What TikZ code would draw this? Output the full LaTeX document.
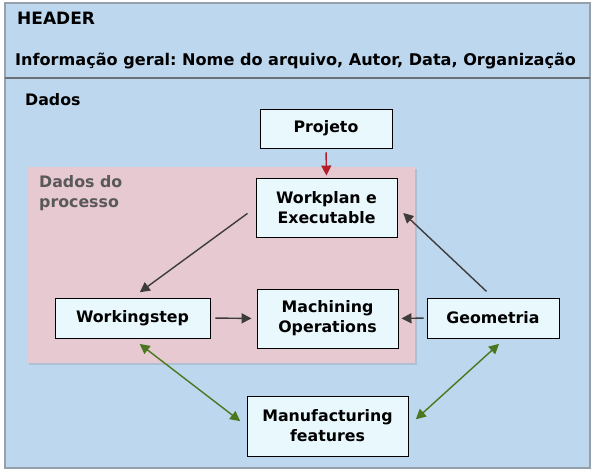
\documentclass[tikz,border=0pt]{standalone}
\usepackage{fontspec}
\setmainfont{DejaVu Sans}
\usepackage{xcolor}
\usepackage{tikz}
\usetikzlibrary{arrows.meta,positioning,shadows}
\frenchspacing

\definecolor{bgblue}{RGB}{189,215,238}
\definecolor{bgpink}{RGB}{231,201,210}
\definecolor{boxfill}{RGB}{233,248,253}
\definecolor{frame}{RGB}{150,160,170}
\definecolor{arrgray}{RGB}{60,60,60}
\definecolor{arrred}{RGB}{180,30,40}
\definecolor{arrgreen}{RGB}{75,120,30}

\begin{document}
\begin{tikzpicture}[x=1pt, y=-1pt,
    box/.style={draw, fill=boxfill, line width=0.9pt, align=center, font=\fontsize{15.8}{20}\selectfont\bfseries},
    arr/.style={-{Triangle[length=10pt,width=10pt]}, arrgray, line width=1.4pt},
    link/.style={{Triangle[length=10pt,width=10pt]}-{Triangle[length=10pt,width=10pt]}, arrgreen, line width=1.4pt}]
        \useasboundingbox (0,0) rectangle (597,474);

        % Header and data areas
        \draw[frame, line width=1.2pt, fill=bgblue] (5,3) rectangle (590,468);
        \draw[frame!70!black, line width=1.2pt] (5,78) -- (590,78);
        \node[anchor=west, inner sep=0, font=\fontsize{17}{20}\selectfont\bfseries] (hdr) at (17,18) {HEADER};
        \node[anchor=west, inner sep=0, font=\fontsize{16.1}{20}\selectfont\bfseries] (info) at (15,61) {Informação geral: Nome do arquivo, Autor, Data, Organização};
        \node[anchor=west, inner sep=0, font=\fontsize{15.8}{20}\selectfont\bfseries] (dados) at (25,100) {Dados};

        % Process data
        \node[fill=bgpink, minimum width=388pt, minimum height=196pt, inner sep=0,
              drop shadow={opacity=0.25, shadow xshift=2pt, shadow yshift=-2pt}] (proc) at (221,265) {};
        \node[anchor=north west, align=left, inner sep=0, text=black!65, font=\fontsize{15.8}{20}\selectfont\bfseries] (proclbl) at (39,175) {Dados do\\processo};

        % Boxes
        \node[box, minimum width=132pt, minimum height=39pt] (proj) at (326,128.5) {Projeto};
        \node[box, minimum width=141pt, minimum height=59pt] (wp) at (326.5,207.5) {Workplan e\\Executable};
        \node[box, minimum width=141pt, minimum height=59pt] (mo) at (327.5,318.5) {Machining\\Operations};
        \node[box, minimum width=155pt, minimum height=40pt] (ws) at (132.5,318) {Workingstep};
        \node[box, minimum width=132pt, minimum height=40pt] (geo) at (493,318) {Geometria};
        \node[box, minimum width=161pt, minimum height=60pt] (mf) at (327.5,426) {Manufacturing\\features};

        % Arrows
        \draw[arr, arrred, shorten <=4pt, shorten >=2pt] (proj.south) -- (wp.north);
        \draw[arr, shorten <=10pt, shorten >=9pt] (wp.west) -- (ws.north);
        \draw[arr, shorten <=5pt, shorten >=5pt] (ws.east) -- (mo.west);
        \draw[arr, shorten <=3pt, shorten >=3pt] (geo.west) -- (mo.east);
        \draw[arr, shorten <=9pt, shorten >=8pt] (geo.north) -- (wp.east);

        % Links to features
        \draw[link, shorten <=9pt, shorten >=8pt] (ws.south) -- (mf.west);
        \draw[link, shorten <=8pt, shorten >=10pt] ([xshift=12pt]geo.south) -- (mf.east);
    \end{tikzpicture}
\end{document}
